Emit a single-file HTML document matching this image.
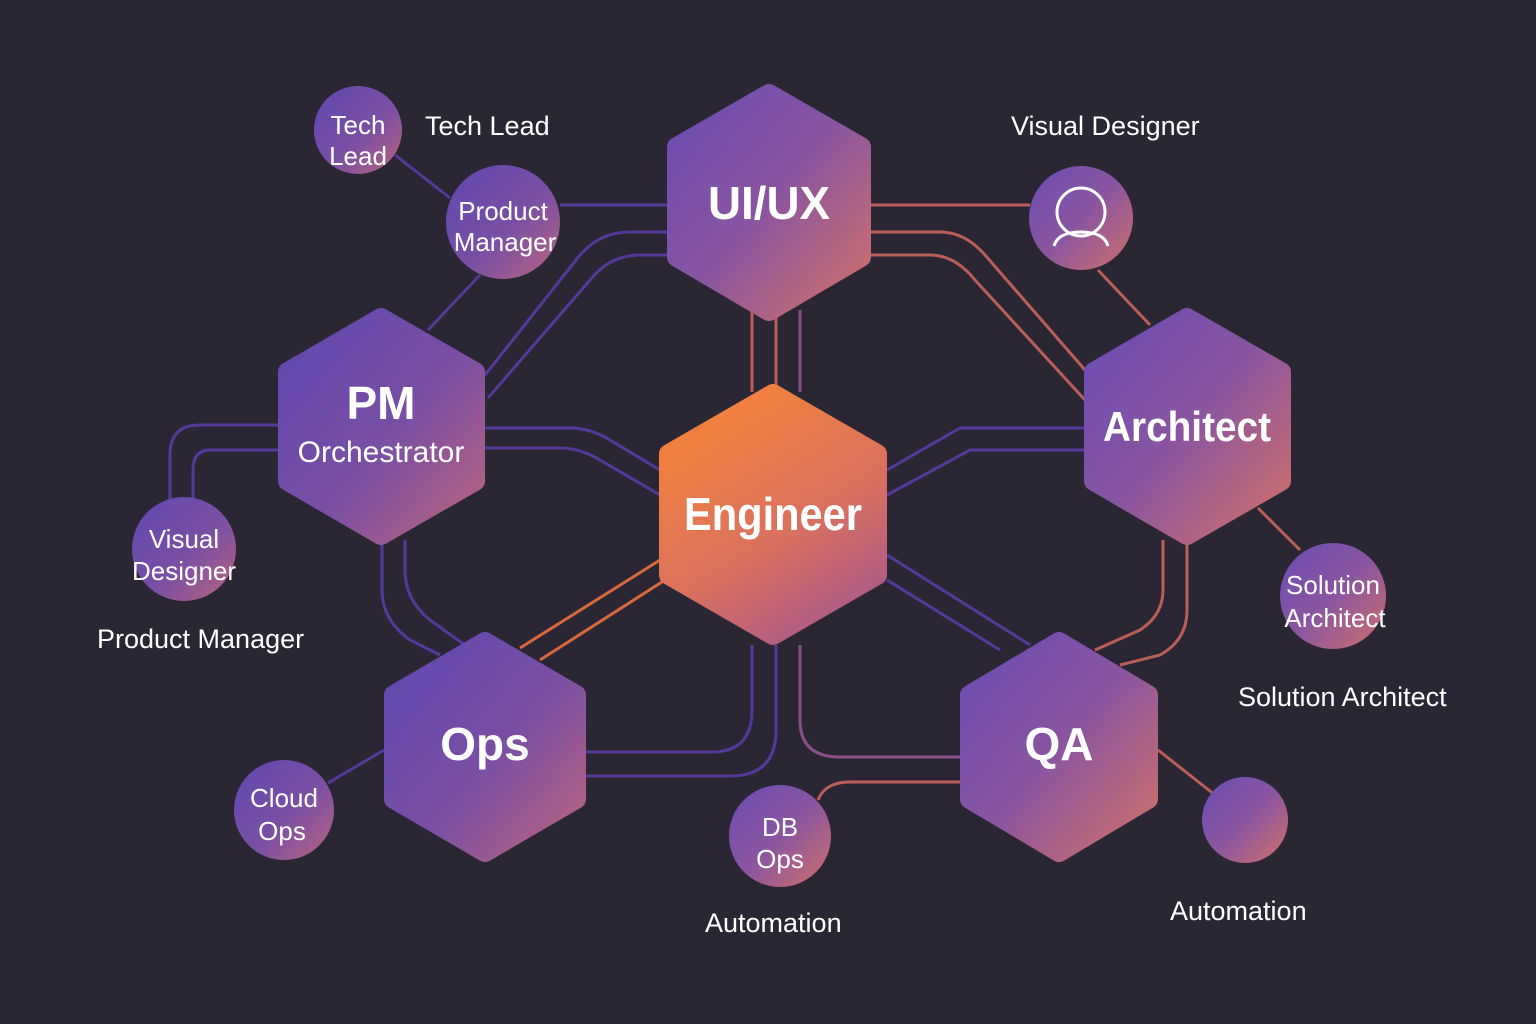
<!DOCTYPE html>
<html><head><meta charset="utf-8"><style>
html,body{margin:0;padding:0;background:#2b2633;}
svg{display:block}
text{font-family:"Liberation Sans",sans-serif;fill:#fff}
</style></head><body>
<svg width="1536" height="1024" viewBox="0 0 1536 1024" xmlns="http://www.w3.org/2000/svg">
<defs>
<linearGradient id="g" x1="0" y1="0" x2="1" y2="1">
<stop offset="0" stop-color="#6a4cb4"/><stop offset="0.5" stop-color="#8a55a0"/><stop offset="1" stop-color="#d0706a"/></linearGradient>
<linearGradient id="gb" x1="0" y1="0" x2="1" y2="1">
<stop offset="0" stop-color="#5f48b0"/><stop offset="0.55" stop-color="#7a4fa4"/><stop offset="1" stop-color="#b8647e"/></linearGradient>
<linearGradient id="eng" x1="0.3" y1="0.1" x2="0.8" y2="1">
<stop offset="0" stop-color="#f08040"/><stop offset="0.55" stop-color="#d87060"/><stop offset="1" stop-color="#a8588a"/></linearGradient>
</defs>
<rect width="1536" height="1024" fill="#2b2633"/>
<g fill="none" stroke-width="3">
<g stroke="#54399a">
<path d="M395,155 L450,198"/>
<path d="M560,205 L667,205"/>
<path d="M480,275 L428,330"/>
<path d="M667,232 L630,232 Q600,232 580,255 L485,375"/>
<path d="M667,255 L640,255 Q610,255 590,280 L488,398"/>
<path d="M485,428 L570,428 Q590,428 610,440 L660,470"/>
<path d="M485,448 L560,448 Q580,448 600,460 L660,495"/>
<path d="M278,425 L200,425 Q170,425 170,455 L170,500"/>
<path d="M278,450 L210,450 Q193,450 193,470 L193,498"/>
<path d="M382,540 L382,590 Q382,620 410,640 L440,655"/>
<path d="M405,540 L405,570 Q405,600 430,620 L465,645"/>
<path d="M384,750 L328,783"/>
<path d="M887,470 L960,428 L1084,428"/>
<path d="M887,495 L970,450 L1084,450"/>
<path d="M887,555 L1030,645"/>
<path d="M887,580 L1000,650"/>
<path d="M752,645 L752,710 Q752,752 712,752 L586,752"/>
<path d="M776,645 L776,730 Q776,776 730,776 L586,776"/>
</g>
<g stroke="#b95e58">
<path d="M871,205 L1030,205"/>
<path d="M871,232 L940,232 Q965,232 985,255 L1085,370"/>
<path d="M871,255 L930,255 Q955,255 975,280 L1085,400"/>
<path d="M752,310 L752,392"/>
<path d="M776,310 L776,392"/>
<path d="M1098,270 L1150,325"/>
<path d="M1258,508 L1300,550"/>
<path d="M1163,540 L1163,590 Q1163,615 1140,630 L1095,650"/>
<path d="M1187,540 L1187,610 Q1187,640 1160,655 L1120,665"/>
<path d="M960,782 L850,782 Q825,782 818,800"/>
<path d="M1158,750 L1215,795"/>
</g>
<path stroke="#8a4f88" d="M800,310 L800,392"/>
<path stroke="#8a4f88" d="M800,645 L800,720 Q800,757 840,757 L960,757"/>
<path stroke="#d8683e" d="M660,560 L520,648"/>
<path stroke="#d8683e" d="M665,580 L540,660"/>
</g>
<g stroke-linejoin="round" stroke-width="20">
<polygon fill="url(#g)" stroke="url(#g)" points="769,94 861,147 861,257 769,311 677,257 677,147"/>
<polygon fill="url(#gb)" stroke="url(#gb)" points="381,318 475,372 475,481 381,535 288,481 288,372"/>
<polygon fill="url(#eng)" stroke="url(#eng)" points="773,394 877,454 877,575 773,635 669,575 669,454"/>
<polygon fill="url(#g)" stroke="url(#g)" points="1187,318 1281,372 1281,481 1187,535 1094,481 1094,372"/>
<polygon fill="url(#gb)" stroke="url(#gb)" points="485,642 576,695 576,799 485,852 394,799 394,695"/>
<polygon fill="url(#g)" stroke="url(#g)" points="1059,642 1148,695 1148,799 1059,852 970,799 970,695"/>
</g>
<circle cx="358" cy="130" r="44" fill="url(#gb)"/>
<circle cx="503" cy="222" r="57" fill="url(#gb)"/>
<circle cx="1081" cy="218" r="52" fill="url(#g)"/>
<circle cx="184" cy="549" r="52" fill="url(#gb)"/>
<circle cx="1333" cy="596" r="53" fill="url(#g)"/>
<circle cx="284" cy="810" r="50" fill="url(#gb)"/>
<circle cx="780" cy="836" r="51" fill="url(#g)"/>
<circle cx="1245" cy="820" r="43" fill="url(#g)"/>
<g fill="none" stroke="#fff" stroke-width="3">
<circle cx="1081" cy="212" r="24"/>
<path d="M1054,246 Q1058,232 1081,232 Q1104,232 1108,246"/>
</g>
<g font-size="46" font-weight="bold" text-anchor="middle">
<text x="769" y="219" textLength="122" lengthAdjust="spacingAndGlyphs">UI/UX</text>
<text x="381" y="419">PM</text>
<text x="381" y="462" font-size="30" font-weight="normal">Orchestrator</text>
<text x="773" y="530" textLength="178" lengthAdjust="spacingAndGlyphs">Engineer</text>
<text x="1187" y="441" font-size="42" textLength="168" lengthAdjust="spacingAndGlyphs">Architect</text>
<text x="485" y="760">Ops</text>
<text x="1059" y="760">QA</text>
</g>
<g font-size="26" text-anchor="middle">
<text x="358" y="134">Tech</text><text x="358" y="165">Lead</text>
<text x="503" y="220">Product</text><text x="505" y="251">Manager</text>
<text x="184" y="548">Visual</text><text x="184" y="580">Designer</text>
<text x="1333" y="594">Solution</text><text x="1335" y="627">Architect</text>
<text x="284" y="807">Cloud</text><text x="282" y="840">Ops</text>
<text x="780" y="836">DB</text><text x="780" y="868">Ops</text>
</g>
<g font-size="27">
<text x="425" y="135">Tech Lead</text>
<text x="1011" y="135">Visual Designer</text>
<text x="97" y="648">Product Manager</text>
<text x="1238" y="706">Solution Architect</text>
<text x="705" y="932">Automation</text>
<text x="1170" y="920">Automation</text>
</g>
</svg>
</body></html>
